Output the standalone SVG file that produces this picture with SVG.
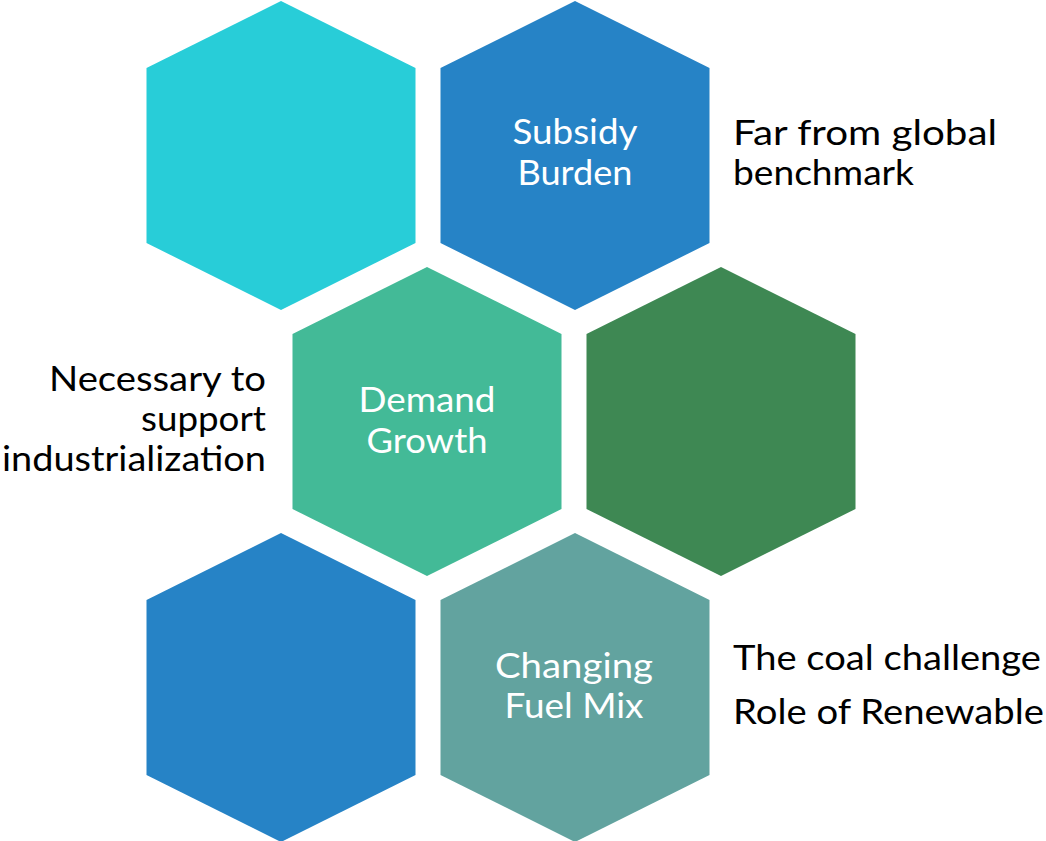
<svg xmlns="http://www.w3.org/2000/svg" xmlns:xlink="http://www.w3.org/1999/xlink" width="1046" height="841" viewBox="0 0 1046 841">
<style>
.lbl{font-family:"Lato","Liberation Sans",sans-serif;font-size:35px;fill:#FFFFFF;text-anchor:middle}
.note{font-family:"Lato","Liberation Sans",sans-serif;font-size:35px;fill:#000000}
.end{text-anchor:end}
</style>
<defs>
<polygon id="hex" points="0,-154.5 134.5,-87.5 134.5,87.5 0,154.5 -134.5,87.5 -134.5,-87.5"/>
</defs>
<rect width="1046" height="841" fill="#FFFFFF"/>
<g id="hex-cyan"><use xlink:href="#hex" href="#hex" transform="translate(281,155.5)" fill="#28CDD8"/></g>
<g id="hex-subsidy"><use xlink:href="#hex" href="#hex" transform="translate(575,155.5)" fill="#2683C6"/>
<text class="lbl" x="575" y="144" textLength="125" lengthAdjust="spacingAndGlyphs">Subsidy</text>
<text class="lbl" x="575" y="185" textLength="115" lengthAdjust="spacingAndGlyphs">Burden</text></g>
<g id="hex-demand"><use xlink:href="#hex" href="#hex" transform="translate(427,421.5)" fill="#43BA97"/>
<text class="lbl" x="427" y="412" textLength="137" lengthAdjust="spacingAndGlyphs">Demand</text>
<text class="lbl" x="427" y="453" textLength="121" lengthAdjust="spacingAndGlyphs">Growth</text></g>
<g id="hex-green"><use xlink:href="#hex" href="#hex" transform="translate(721,421.5)" fill="#3E8853"/></g>
<g id="hex-blue"><use xlink:href="#hex" href="#hex" transform="translate(281,687.5)" fill="#2683C6"/></g>
<g id="hex-fuel"><use xlink:href="#hex" href="#hex" transform="translate(575,687.5)" fill="#62A39F"/>
<text class="lbl" x="574" y="678" textLength="158" lengthAdjust="spacingAndGlyphs">Changing</text>
<text class="lbl" x="574" y="718" textLength="139" lengthAdjust="spacingAndGlyphs">Fuel Mix</text></g>
<g id="note-subsidy">
<text class="note" x="733" y="145" textLength="264" lengthAdjust="spacingAndGlyphs">Far from global</text>
<text class="note" x="733" y="185" textLength="181" lengthAdjust="spacingAndGlyphs">benchmark</text></g>
<g id="note-demand">
<text class="note end" x="266" y="391" textLength="217" lengthAdjust="spacingAndGlyphs">Necessary to</text>
<text class="note end" x="266" y="431" textLength="125" lengthAdjust="spacingAndGlyphs">support</text>
<text class="note end" x="266" y="471" textLength="264" lengthAdjust="spacingAndGlyphs">industrialization</text></g>
<g id="note-fuel">
<text class="note" x="733" y="670" textLength="308" lengthAdjust="spacingAndGlyphs">The coal challenge</text>
<text class="note" x="733" y="724" textLength="311" lengthAdjust="spacingAndGlyphs">Role of Renewable</text></g>
<g id="connectors"/>
</svg>
